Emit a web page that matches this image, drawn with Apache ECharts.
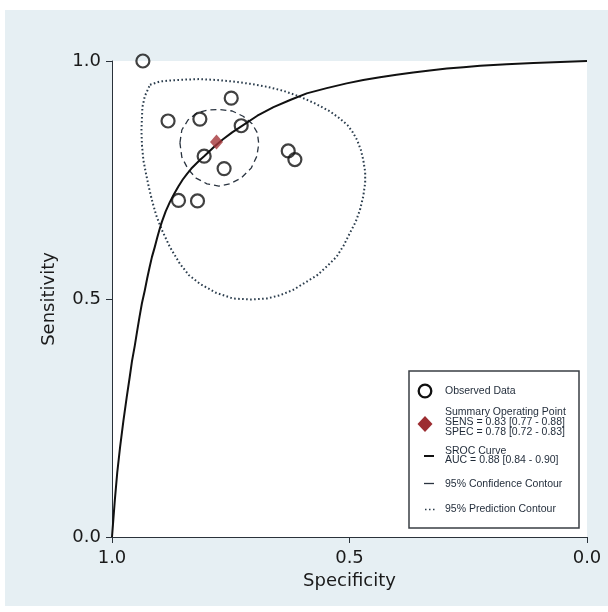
<!DOCTYPE html>
<html>
<head>
<meta charset="utf-8">
<script src="https://cdn.jsdelivr.net/npm/echarts@6/dist/echarts.min.js"></script>
<style>
html,body{margin:0;padding:0;background:#ffffff;}
#bg{position:absolute;left:5px;top:10px;width:603px;height:596px;background:#e6eff3;}
#chart{position:absolute;left:0;top:0;width:608px;height:612px;}
</style>
</head>
<body>
<div id="bg"></div>
<div id="chart"></div>
<script>
// ---- data ----
const axisTicks = [0, 0.5, 1];
const xTitle = 'Specificity';
const yTitle = 'Sensitivity';

// observed studies: specificity, sensitivity
const obsSpec = [0.935, 0.882, 0.815, 0.749, 0.728, 0.806, 0.764, 0.629, 0.615, 0.860, 0.820];
const obsSens = [1.000, 0.874, 0.878, 0.922, 0.864, 0.800, 0.774, 0.811, 0.793, 0.707, 0.706];

// summary operating point
const summarySpec = [0.78];
const summarySens = [0.83];

// SROC curve points
const srocSpec = [1.000, 0.998, 0.994, 0.989, 0.983, 0.976, 0.969, 0.963, 0.958, 0.952, 0.947, 0.942, 0.937, 0.931, 0.926, 0.921, 0.916, 0.910, 0.905, 0.900, 0.895, 0.887, 0.878, 0.869, 0.860, 0.851, 0.842, 0.833, 0.824, 0.815, 0.806, 0.786, 0.767, 0.747, 0.727, 0.694, 0.660, 0.625, 0.590, 0.548, 0.506, 0.471, 0.436, 0.401, 0.366, 0.331, 0.295, 0.260, 0.225, 0.169, 0.113, 0.056, 0.000];
const srocSens = [0.000, 0.026, 0.078, 0.135, 0.189, 0.244, 0.294, 0.334, 0.369, 0.402, 0.433, 0.463, 0.491, 0.518, 0.543, 0.566, 0.588, 0.609, 0.628, 0.646, 0.662, 0.684, 0.704, 0.721, 0.737, 0.751, 0.763, 0.774, 0.783, 0.792, 0.800, 0.819, 0.835, 0.850, 0.863, 0.885, 0.903, 0.918, 0.932, 0.943, 0.953, 0.960, 0.966, 0.971, 0.976, 0.980, 0.984, 0.987, 0.990, 0.993, 0.996, 0.998, 1.000];

// 95% confidence contour
const confSpec = [0.857, 0.853, 0.840, 0.821, 0.798, 0.773, 0.747, 0.724, 0.705, 0.694, 0.691, 0.695, 0.707, 0.728, 0.752, 0.775, 0.800, 0.823, 0.840, 0.853, 0.857];
const confSens = [0.828, 0.855, 0.876, 0.891, 0.897, 0.898, 0.895, 0.884, 0.868, 0.849, 0.826, 0.800, 0.775, 0.754, 0.742, 0.737, 0.742, 0.754, 0.773, 0.798, 0.828];

// 95% prediction contour
const predSpec = [0.920, 0.899, 0.878, 0.846, 0.815, 0.779, 0.745, 0.709, 0.674, 0.638, 0.604, 0.571, 0.541, 0.520, 0.504, 0.493, 0.484, 0.476, 0.471, 0.467, 0.467, 0.471, 0.478, 0.487, 0.499, 0.512, 0.527, 0.547, 0.568, 0.594, 0.619, 0.646, 0.674, 0.709, 0.745, 0.781, 0.815, 0.838, 0.857, 0.878, 0.895, 0.907, 0.916, 0.922, 0.928, 0.934, 0.937, 0.938, 0.937, 0.936, 0.931, 0.920];
const predSens = [0.950, 0.957, 0.959, 0.961, 0.962, 0.960, 0.957, 0.952, 0.946, 0.937, 0.925, 0.910, 0.894, 0.879, 0.865, 0.850, 0.834, 0.813, 0.792, 0.767, 0.744, 0.716, 0.687, 0.662, 0.639, 0.613, 0.589, 0.569, 0.550, 0.534, 0.519, 0.508, 0.501, 0.499, 0.501, 0.513, 0.532, 0.550, 0.574, 0.609, 0.645, 0.676, 0.708, 0.733, 0.761, 0.792, 0.824, 0.855, 0.880, 0.903, 0.926, 0.950];

// legend texts
const legendObserved = 'Observed Data';
const legendSummary = ['Summary Operating Point', 'SENS = 0.83 [0.77 - 0.88]', 'SPEC = 0.78 [0.72 - 0.83]'];
const legendSroc = ['SROC Curve', 'AUC = 0.88 [0.84 - 0.90]'];
const legendConf = '95% Confidence Contour';
const legendPred = '95% Prediction Contour';

// ---- build ----
const pairs = (xs, ys) => xs.map((x, i) => [x, ys[i]]);
const axisFont = 'DejaVu Sans';
const axisColor = '#2a323a';
const textColor = '#1a1a1a';
const legFont = 'Liberation Sans';
const legColor = '#1f2a38';

function axisBase(name, gap, isX) {
  return {
    type: 'value', min: 0, max: 1, interval: 0.5,
    name: name, nameLocation: 'middle', nameGap: gap,
    nameTextStyle: { fontFamily: axisFont, fontSize: 18, color: textColor },
    axisLine: { show: true, onZero: false, lineStyle: { color: axisColor, width: 1 } },
    axisTick: { show: true, length: 6, lineStyle: { color: axisColor, width: 1 } },
    axisLabel: { fontFamily: axisFont, fontSize: 18, color: textColor, margin: isX ? 12 : 11,
                 formatter: v => axisTicks.includes(v) ? v.toFixed(1) : '' },
    splitLine: { show: false }
  };
}

const chart = echarts.init(document.getElementById('chart'), null, { renderer: 'canvas' });
const xAxis = axisBase(xTitle, 29, true); xAxis.inverse = true;
const yAxis = axisBase(yTitle, 54, false);

const lx = 409, ly = 371;
const legendGraphics = [
  { type: 'rect', shape: { x: lx, y: ly, width: 170, height: 157 }, style: { fill: '#ffffff', stroke: '#3a3f44', lineWidth: 1.5 }, z: 10 },
  { type: 'circle', shape: { cx: 425, cy: 391, r: 6.3 }, style: { fill: '#ffffff', stroke: '#111', lineWidth: 2.3 }, z: 11 },
  { type: 'polygon', shape: { points: [[425, 416], [432.5, 424], [425, 432], [417.5, 424]] }, style: { fill: '#9c2d31' }, z: 11 },
  { type: 'line', shape: { x1: 424, y1: 456, x2: 434, y2: 456 }, style: { stroke: '#111', lineWidth: 2 }, z: 11 },
  { type: 'line', shape: { x1: 424, y1: 483.5, x2: 434, y2: 483.5 }, style: { stroke: '#2a3440', lineWidth: 1.3 }, z: 11 },
  { type: 'line', shape: { x1: 425, y1: 509.5, x2: 436, y2: 509.5 }, style: { stroke: '#2a3a48', lineWidth: 1.6, lineDash: [1.5, 2.5] }, z: 11 }
];
function legText(str, y) {
  return { type: 'text', x: 445, y: y, style: { text: str, fontFamily: legFont, fontSize: 10.5, fill: legColor, verticalAlign: 'middle', textAlign: 'left' }, z: 11 };
}
legendGraphics.push(legText(legendObserved, 391));
legendSummary.forEach((s, i) => legendGraphics.push(legText(s, 412 + i * 10)));
legendSroc.forEach((s, i) => legendGraphics.push(legText(s, 451 + i * 9.5)));
legendGraphics.push(legText(legendConf, 484));
legendGraphics.push(legText(legendPred, 509));

chart.setOption({
  animation: false,
  backgroundColor: 'transparent',
  grid: { left: 112, top: 61, right: 21, bottom: 75, show: true, backgroundColor: '#ffffff', borderWidth: 0 },
  xAxis: xAxis,
  yAxis: yAxis,
  series: [
    { type: 'line', name: 'pred', data: pairs(predSpec, predSens), smooth: false, symbol: 'none',
      lineStyle: { color: '#2b3d4d', width: 2, type: [1.6, 2.4], join: 'round' }, z: 2 },
    { type: 'line', name: 'conf', data: pairs(confSpec, confSens), smooth: false, symbol: 'none',
      lineStyle: { color: '#2a3440', width: 1.3, type: [6, 4], join: 'round' }, z: 2 },
    { type: 'line', name: 'sroc', data: pairs(srocSpec, srocSens), smooth: false, symbol: 'none',
      lineStyle: { color: '#111111', width: 2, join: 'round' }, z: 3 },
    { type: 'scatter', name: 'obs', data: pairs(obsSpec, obsSens), symbol: 'circle', symbolSize: 13,
      itemStyle: { color: 'rgba(255,255,255,0)', borderColor: '#111', borderWidth: 2.2 }, z: 4 },
    { type: 'scatter', name: 'summary', data: pairs(summarySpec, summarySens), symbol: 'diamond', symbolSize: [13, 15],
      itemStyle: { color: '#a5363a' }, z: 5 }
  ],
  graphic: legendGraphics
});
</script>
</body>
</html>
